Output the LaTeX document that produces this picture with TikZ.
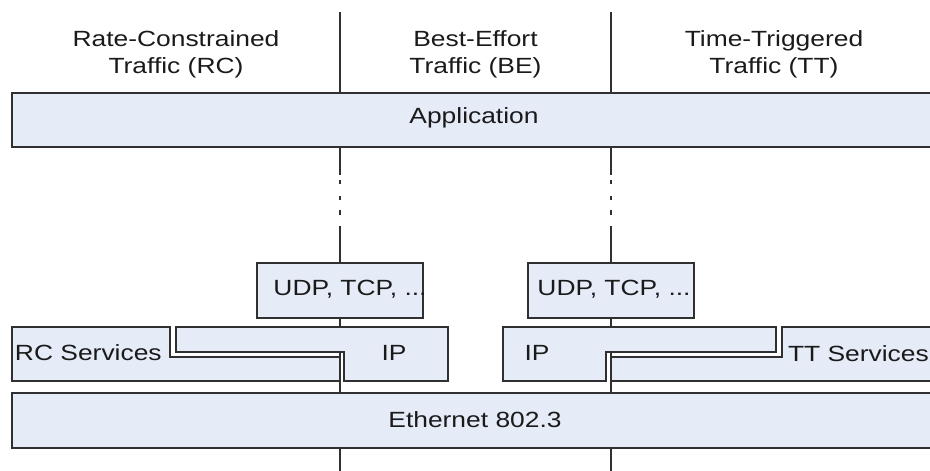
\documentclass[tikz,border=0pt]{standalone}
\usepackage{fontspec}
\newfontfamily\layerfont[FakeStretch=1.2]{Liberation Sans}
\usepackage{tikz}

\begin{document}
\begin{tikzpicture}[x=1pt,y=-1pt,line cap=rect,
	layerbox/.style={draw=custcol_30_30_30, fill=custcol_e5_eb_f7, line width=1.6pt, inner sep=0, outer sep=0, anchor=north west},
	layershape/.style={draw=custcol_30_30_30, fill=custcol_e5_eb_f7, line width=1.6pt, line join=miter},
	layertext/.style={inner sep=0, outer sep=0, custcol_1a_1a_1a, font=\layerfont\fontsize{22pt}{21pt}\selectfont, anchor=base},
	headtext/.style={layertext, align=center, font=\layerfont\fontsize{22pt}{27pt}\selectfont},
	trafficline/.style={custcol_30_30_30, line width=1.6pt, line cap=butt}]
					\definecolor{custcol_30_30_30}{RGB}{48, 48, 48}
					\definecolor{custcol_e5_eb_f7}{RGB}{229, 235, 247}
					\definecolor{custcol_1a_1a_1a}{RGB}{26, 26, 26}
					\clip (0,0) rectangle (930,471);
					\coordinate (topL) at (340,12);
					\coordinate (topR) at (611,12);
					\coordinate (ipLnw) at (176,327);
					\coordinate (ipRnw) at (503,327);
					\coordinate (splitL) at (340,352);
					\coordinate (splitR) at (611,352);
					\coordinate (botL) at (340,471);
					\coordinate (botR) at (611,471);
					% traffic classes
					\node[headtext] (rcHead) at (176,73) {Rate-Constrained\\Traffic (RC)};
					\node[headtext] (beHead) at (475.5,73) {Best-Effort\\Traffic (BE)};
					\node[headtext] (ttHead) at (774,73) {Time-Triggered\\Traffic (TT)};
					% layers
					\node[layerbox, minimum width=928pt, minimum height=54pt] (app) at (12,93) {};
					\node[layertext] (appText) at (474,123) {Application};
					\node[layerbox, minimum width=166pt, minimum height=55pt] (udpL) at (257,263) {};
					\node[layertext] (udpLText) at (350,295) {UDP, TCP, ...};
					\node[layerbox, minimum width=166pt, minimum height=55pt] (udpR) at (528,263) {};
					\node[layertext] (udpRText) at (614,295) {UDP, TCP, ...};
					\draw [layershape]  (12,327) -- (170,327) -- (170,357) -- (340,357) -- (340,381) -- (12,381) -- cycle;
					\draw [layershape]  (ipLnw) -- (448,327) -- (448,381) -- (344,381) -- (344,352) -- (176,352) -- cycle;
					\draw [layershape]  (ipRnw) -- (776,327) -- (776,352) -- (606,352) -- (606,381) -- (503,381) -- cycle;
					\draw [layershape]  (782,327) -- (940,327) -- (940,381) -- (611,381) -- (611,357) -- (782,357) -- cycle;
					\node[layertext, anchor=base west] (rcText) at (15,360) {RC Services};
					\node[layertext] (ipLText) at (394,360) {IP};
					\node[layertext] (ipRText) at (537,360) {IP};
					\node[layertext, anchor=base west] (ttText) at (788,361) {TT Services};
					\node[layerbox, minimum width=928pt, minimum height=55pt] (eth) at (12,393) {};
					\node[layertext] (ethText) at (475,427) {Ethernet 802.3};
					% vertical separators
					\draw [trafficline]  (topL) -- (topL |- app.north);
					\draw [trafficline]  (topR) -- (topR |- app.north);
					\draw [trafficline, dash pattern=on 28pt off 5pt on 4pt off 12pt on 4pt off 10pt on 5pt off 11pt on 40pt]  (app.south -| udpL.north) -- (udpL.north);
					\draw [trafficline, dash pattern=on 28pt off 5pt on 4pt off 12pt on 4pt off 10pt on 5pt off 11pt on 40pt]  (app.south -| udpR.north) -- (udpR.north);
					\draw [trafficline]  (udpL.south) -- (udpL.south |- ipLnw);
					\draw [trafficline]  (udpR.south) -- (udpR.south |- ipRnw);
					\draw [trafficline]  (splitL) -- (splitL |- eth.north);
					\draw [trafficline]  (splitR) -- (splitR |- eth.north);
					\draw [trafficline]  (eth.south -| botL) -- (botL);
					\draw [trafficline]  (eth.south -| botR) -- (botR);
				\end{tikzpicture}
\end{document}
